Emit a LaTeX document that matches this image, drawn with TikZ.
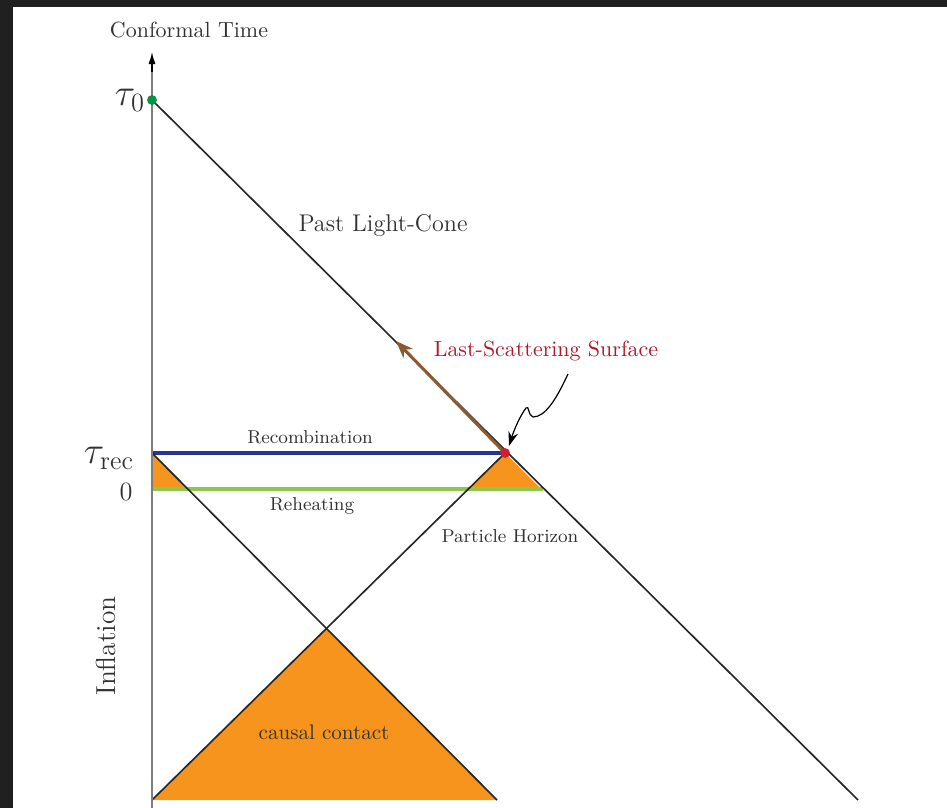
\documentclass[tikz,border=0pt]{standalone}
\usepackage{amsmath}
\usepackage{tikz}
\usetikzlibrary{arrows,arrows.meta,shapes,positioning}
\usepackage{xcolor}
\definecolor{ctframe}{RGB}{32,32,32}
\definecolor{ctaxis}{RGB}{125,125,125}
\definecolor{ctorange}{RGB}{246,148,30}
\definecolor{ctblue}{RGB}{38,52,150}
\definecolor{ctgreen}{RGB}{140,200,75}
\definecolor{ctbrown}{RGB}{140,90,50}
\definecolor{ctred}{RGB}{205,30,50}
\definecolor{ctdot}{RGB}{0,150,70}
\definecolor{cttext}{RGB}{50,50,50}
\tikzstyle{cone} = [line width=0.75pt, color=black!85]
\tikzstyle{epoch} = [line width=1.9pt]
\tikzstyle{region} = [fill=ctorange, draw=none]
\tikzstyle{event} = [circle, inner sep=0pt, minimum size=4.5pt]
\tikzstyle{tlabel} = [font=\fontsize{18}{20}\selectfont, text=cttext]
\tikzstyle{small label} = [font=\fontsize{8.5}{10}\selectfont, text=cttext]

\begin{document}
\begin{tikzpicture}[x=0.016cm, y=-0.016cm]
\useasboundingbox (0,0) rectangle (947,808);
% screenshot frame
\fill[ctframe] (0,0) rectangle (947,7);
\fill[ctframe] (0,0) rectangle (13,808);

% key events
\coordinate (origin) at (152,808);
\coordinate (axistop) at (152,52);
\coordinate (now) at (152,100);
\coordinate (recl) at (152,453);
\coordinate (rehl) at (152,489);
\coordinate (lss) at (505,453);
\coordinate (rehr) at (543,489);
\coordinate (apex) at (326,628);
\coordinate (leftfoot) at (152,800);
\coordinate (rightfoot) at (497,800);
\coordinate (conefoot) at (858,800);

% causal regions
\fill[region] (apex) -- (leftfoot) -- (rightfoot) -- cycle;
\fill[region] (recl) -- (rehl) -- (188,489) -- cycle;
\fill[region] (lss) -- (469,489) -- (541,489) -- cycle;

% epochs
\draw[epoch, ctblue] (recl) -- (lss);
\draw[epoch, ctgreen] (rehl) -- (rehr);

% light cones
\draw[cone] (now) -- (conefoot);
\draw[cone] (recl) -- (rightfoot);
\draw[cone] (lss) -- (leftfoot);
\draw[line width=1.4pt, ctbrown, -{Stealth[length=8pt,width=6pt]}] (lss) -- (396,341);

% time axis
\draw[line width=0.9pt, ctaxis] (origin) -- (152,62);
\draw[line width=0.6pt, black, -{Latex[length=5.5pt,width=3.2pt]}] (152,72) -- (axistop);

% events
\node (nowdot) [event, fill=ctdot] at (now) {};
\node (lssdot) [event, fill=ctred] at (lss) {};

% labels
\node (axislabel) [text=cttext] at (189,30) {Conformal Time};
\node (taunow) [tlabel] at (130,100) {$\tau_0$};
\node (taurec) [tlabel] at (109,458) {$\tau_{\mathrm{rec}}$};
\node (zero) [font=\fontsize{13}{15}\selectfont, text=cttext] at (126,492) {$0$};
\node (cone label) [font=\fontsize{11}{13}\selectfont, text=cttext] at (383,225) {Past Light-Cone};
\node (lsslabel) [text=ctred!85!black] at (546,351) {Last-Scattering Surface};
\node (reclabel) [small label] at (310,437) {Recombination};
\node (rehlabel) [small label] at (312,506) {Reheating};
\node (horizon) [small label] at (510,536) {Particle Horizon};
\node (contact) [font=\fontsize{9.6}{11}\selectfont, text=cttext] at (324,732) {causal contact};
\node (inflation) [font=\fontsize{12.5}{14}\selectfont, text=cttext, rotate=90] at (106,646) {Inflation};

% pointer to the last-scattering surface
\coordinate (pointer) at (568,374);
\draw[line width=0.55pt, -{Stealth[length=6.5pt,width=4.5pt]}] (pointer) .. controls (556,400) and (545,417) .. (533,417) .. controls (528,416) and (529,404) .. (526,408) .. controls (520,416) and (514,430) .. (509,446);
\end{tikzpicture}
\end{document}
